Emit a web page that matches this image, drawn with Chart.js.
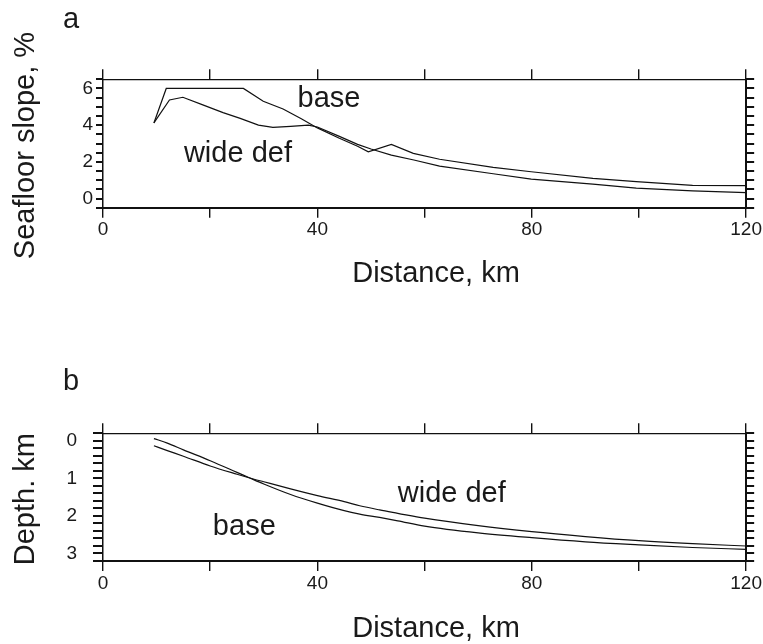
<!DOCTYPE html>
<html>
<head>
<meta charset="utf-8">
<script src="https://cdn.jsdelivr.net/npm/chart.js@4.4.0/dist/chart.umd.min.js"></script>
<style>
  html, body { margin: 0; padding: 0; background: #fff; }
  #quadro { position: relative; width: 763px; height: 644px; }
  canvas { position: absolute; left: 0; }
</style>
</head>
<body>
<div id="quadro">
  <canvas id="painelA" width="763" height="322" style="top:0"></canvas>
  <canvas id="painelB" width="763" height="322" style="top:322px"></canvas>
</div>
<script>
// perfil de declividade do fundo (%), distancia em km
const kmSlopeBase = [9.5, 11.8, 26.2, 29.9, 33.6, 37, 40, 44, 47.5, 49.5, 53.8, 57.9, 62.8, 72.8, 79.9, 91.4, 99.5, 110, 120];
const slopeBase   = [4.12, 6.0, 6.0, 5.3, 4.88, 4.35, 3.85, 3.3, 2.85, 2.55, 2.95, 2.46, 2.14, 1.7, 1.46, 1.1, 0.92, 0.72, 0.7];
const kmSlopeWide = [9.5, 12.4, 14.9, 18.5, 22.4, 25.6, 29, 31.7, 35, 38.3, 40, 44, 47.5, 50, 53.8, 58, 62.8, 72.8, 79.9, 91.4, 99.5, 110, 120];
const slopeWide   = [4.12, 5.37, 5.52, 5.12, 4.68, 4.37, 4.0, 3.88, 3.93, 4.0, 3.9, 3.4, 2.95, 2.7, 2.37, 2.1, 1.77, 1.35, 1.06, 0.78, 0.57, 0.42, 0.32];

// profundidade (km) nas mesmas distancias
const kmDepth   = [9.5, 12, 15, 20, 25, 27.4, 30, 35, 40, 45, 47.9, 51.6, 55, 60, 70, 80, 90, 100, 110, 120];
const depthBase = [-0.06, 0.06, 0.24, 0.53, 0.84, 0.99, 1.15, 1.43, 1.66, 1.86, 1.95, 2.04, 2.13, 2.27, 2.45, 2.58, 2.69, 2.77, 2.84, 2.89];
const depthWide = [0.13, 0.26, 0.41, 0.67, 0.89, 0.99, 1.09, 1.28, 1.46, 1.62, 1.73, 1.84, 1.93, 2.06, 2.26, 2.42, 2.55, 2.66, 2.74, 2.8];

// rotulos dos eixos
const distanceTicks = [0, 40, 80, 120];
const slopeTickLabels = [0, 2, 4, 6];
const depthTickLabels = [0, 1, 2, 3];

const fonte = '"Liberation Sans", Arial, Helvetica, sans-serif';
const preto = '#111';
const corTexto = '#1a1a1a';

function pares(xs, ys) {
  return xs.map((x, i) => ({ x: x, y: ys[i] }));
}

// escreve letra do painel, titulos dos eixos e os nomes das curvas
const textos = {
  id: 'textos',
  afterDraw(chart, args, o) {
    const ctx = chart.ctx;
    const area = chart.chartArea;
    ctx.save();
    ctx.fillStyle = corTexto;
    ctx.font = '29px ' + fonte;
    ctx.textBaseline = 'alphabetic';

    ctx.textAlign = 'left';
    ctx.fillText(o.letra, o.letraX, area.top + o.letraDy);

    ctx.textAlign = 'center';
    ctx.fillText('Distance, km', o.tituloXCentro, area.bottom + o.tituloXDy);

    ctx.save();
    ctx.translate(o.tituloYBase, (area.top + area.bottom) / 2 + 2);
    ctx.rotate(-Math.PI / 2);
    ctx.fillText(o.tituloY, 0, 0);
    ctx.restore();

    ctx.textAlign = 'left';
    const sx = chart.scales.x, sy = chart.scales.y;
    o.rotulos.forEach(r => {
      ctx.fillText(r.texto, sx.getPixelForValue(r.km), sy.getPixelForValue(r.valor));
    });
    ctx.restore();
  }
};

function escalas(c) {
  const rotuloY = v => {
    const r = Math.round(v * 10) / 10;
    return c.rotulosY.includes(r) ? String(r) : '';
  };
  return {
    x: {
      type: 'linear', position: 'bottom', min: 0, max: 120,
      ticks: {
        stepSize: 20, autoSkip: false, maxRotation: 0, padding: 1,
        color: corTexto, font: { family: fonte, size: 19 },
        callback: v => distanceTicks.includes(v) ? String(v) : ''
      },
      grid: { drawOnChartArea: false, tickLength: 10, color: preto, lineWidth: 1.4 },
      border: { color: preto, width: 2 },
      afterFit: s => { s.height = c.alturaBaixo; }
    },
    xTopo: {
      type: 'linear', position: 'top', min: 0, max: 120,
      ticks: { stepSize: 20, display: false },
      grid: { drawOnChartArea: false, tickLength: 10, color: preto, lineWidth: 1.4 },
      border: { color: preto, width: 1.2 },
      afterFit: s => { s.height = c.alturaTopo; }
    },
    y: {
      type: 'linear', position: 'left', min: c.min, max: c.max, reverse: c.inverso,
      ticks: {
        stepSize: c.passo, autoSkip: false, padding: c.padY,
        color: corTexto, font: { family: fonte, size: 19 },
        callback: rotuloY
      },
      grid: { drawOnChartArea: false, tickLength: c.tickY, color: preto, lineWidth: 2 },
      border: { color: preto, width: 1.5 },
      afterFit: s => { s.width = 103; }
    },
    yDir: {
      type: 'linear', position: 'right', min: c.min, max: c.max, reverse: c.inverso,
      ticks: { stepSize: c.passo, display: false },
      grid: { drawOnChartArea: false, tickLength: 8, color: preto, lineWidth: 2 },
      border: { color: preto, width: 2 },
      afterFit: s => { s.width = 16.3; }
    }
  };
}

function curva(dados, suave) {
  return {
    data: dados,
    borderColor: preto,
    borderWidth: 1.2,
    pointRadius: 0,
    fill: false,
    tension: 0,
    cubicInterpolationMode: suave ? 'monotone' : 'default'
  };
}

const comum = {
  responsive: false,
  animation: false,
  devicePixelRatio: 1,
  events: [],
  layout: { padding: 0 }
};

// painel a: declividade
new Chart(document.getElementById('painelA').getContext('2d'), {
  type: 'line',
  data: {
    datasets: [
      curva(pares(kmSlopeBase, slopeBase), false),
      curva(pares(kmSlopeWide, slopeWide), false)
    ]
  },
  options: Object.assign({}, comum, {
    scales: escalas({
      min: -0.5, max: 6.5, passo: 0.5, inverso: false, rotulosY: slopeTickLabels,
      padY: 3, tickY: 7, alturaTopo: 79.3, alturaBaixo: 322 - 207.7
    }),
    plugins: {
      legend: { display: false },
      tooltip: { enabled: false },
      textos: {
        letra: 'a', letraX: 63, letraDy: -51,
        tituloY: 'Seafloor slope, %', tituloYBase: 34,
        tituloXCentro: 436, tituloXDy: 74,
        rotulos: [
          { texto: 'base', km: 36.3, valor: 5.0 },
          { texto: 'wide def', km: 15.1, valor: 1.99 }
        ]
      }
    }
  }),
  plugins: [textos]
});

// painel b: profundidade
new Chart(document.getElementById('painelB').getContext('2d'), {
  type: 'line',
  data: {
    datasets: [
      curva(pares(kmDepth, depthBase), true),
      curva(pares(kmDepth, depthWide), true)
    ]
  },
  options: Object.assign({}, comum, {
    scales: escalas({
      min: -0.2, max: 3.2, passo: 0.2, inverso: true, rotulosY: depthTickLabels,
      padY: 16, tickY: 10, alturaTopo: 433.3 - 322, alturaBaixo: 644 - 561
    }),
    plugins: {
      legend: { display: false },
      tooltip: { enabled: false },
      textos: {
        letra: 'b', letraX: 63, letraDy: -43,
        tituloY: 'Depth. km', tituloYBase: 34,
        tituloXCentro: 436, tituloXDy: 76,
        rotulos: [
          { texto: 'wide def', km: 55, valor: 1.63 },
          { texto: 'base', km: 20.5, valor: 2.51 }
        ]
      }
    }
  }),
  plugins: [textos]
});
</script>
</body>
</html>
